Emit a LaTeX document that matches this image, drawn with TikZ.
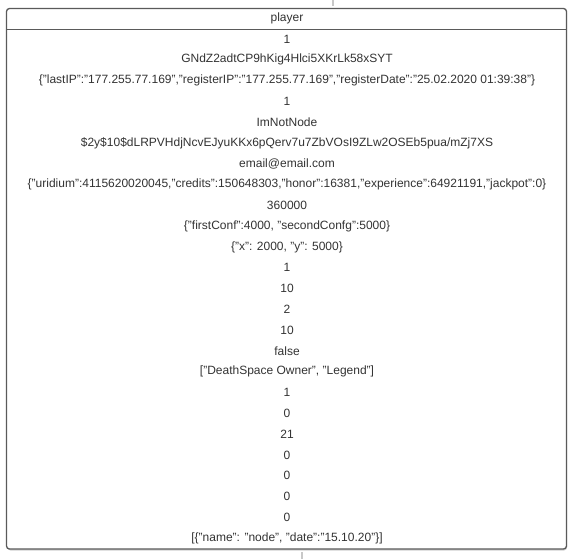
\documentclass[tikz,border=0pt]{standalone}
\usepackage{fontspec}
\setmainfont{Liberation Sans}
\definecolor{txt}{HTML}{333333}
\definecolor{frame}{HTML}{5A5A5A}
\definecolor{tick}{HTML}{C8C8C8}
\begin{document}
\begin{tikzpicture}[x=1bp,y=-1bp,
  row/.style={text=txt,font=\fontsize{12bp}{14bp}\selectfont,inner sep=0pt,anchor=center},
  boxline/.style={draw=frame,line width=1.3bp}]
\useasboundingbox (0,0) rectangle (573,559);
\fill[white] (0,0) rectangle (573,559);
\draw[tick,line width=1.5bp] (333,0) -- (333,6);
\draw[tick,line width=1.5bp] (302,552) -- (302,559);
\fill[black!18,rounded corners=3bp] (7.5,10) rectangle (567,550.5);
\draw[boxline,fill=white,rounded corners=3bp] (6.5,8.5) rectangle (566.5,549);
\draw[boxline] (6.5,29.5) -- (566.5,29.5);
\node[row] (title) at (287,18) {player};
\foreach \t [count=\i from 0] in {
 1,
 GNdZ2adtCP9hKig4Hlci5XKrLk58xSYT,
 {\{"lastIP":"177.255.77.169","registerIP":"177.255.77.169","registerDate":"25.02.2020 01:39:38"\}},
 1,
 ImNotNode,
 {\$2y\$10\$dLRPVHdjNcvEJyuKKx6pQerv7u7ZbVOsI9ZLw2OSEb5pua/mZj7XS},
 {email@email.com},
 {\{"uridium":4115620020045,"credits":150648303,"honor":16381,"experience":64921191,"jackpot":0\}},
 360000,
 {\{"firstConf":4000, "secondConfg":5000\}},
 {\{"x": 2000, "y": 5000\}},
 1, 10, 2, 10, false,
 {["DeathSpace Owner", "Legend"]},
 1, 0, 21, 0, 0, 0, 0,
 {[\{"name": "node", "date":"15.10.20"\}]}
}{
  \node[row] (r\i) at (287,{39+\i*20.8}) {\t};
}
\end{tikzpicture}
\end{document}
